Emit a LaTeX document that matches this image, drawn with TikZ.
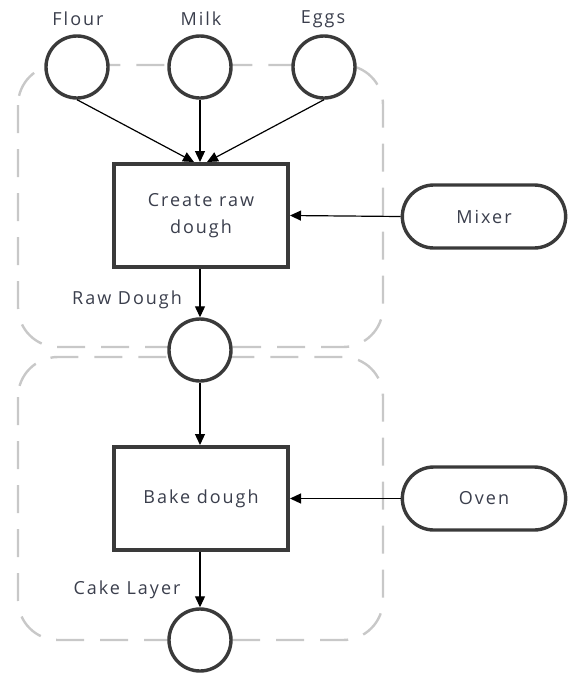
\documentclass[tikz,border=0pt]{standalone}
\usepackage{fontspec}
\setmainfont[LetterSpace=11]{Open Sans}
\usetikzlibrary{arrows.meta,shapes.misc}
\definecolor{ink}{HTML}{3A3A3A}
\definecolor{txt}{HTML}{3A3E4C}
\definecolor{frame}{HTML}{C8C8C8}
\begin{document}
\begin{tikzpicture}[x=1pt,y=-1pt,
  every node/.style={font=\fontsize{18}{27}\selectfont, text=txt},
  token/.style={circle, draw=ink, line width=3.4pt, fill=white, minimum size=62pt, inner sep=0pt},
  task/.style={rectangle, draw=ink, line width=4pt, fill=white, minimum width=174pt, minimum height=103pt, align=center, inner sep=2pt},
  res/.style={rounded rectangle, draw=ink, line width=3.4pt, fill=white, minimum width=170pt, minimum height=63pt},
  group/.style={draw=frame, line width=2.4pt, dash pattern=on 28pt off 16pt, rounded corners=40pt},
  flow/.style={draw=black, line width=1.2pt, -{Triangle[length=11pt,width=10pt]}},
  lbl/.style={inner sep=0pt}]
\useasboundingbox (0,0) rectangle (573,673);

% process groups
\draw[group] (18,65) rectangle (383,347);
\draw[group] (18,357) rectangle (383,640);

% inputs
\node[token] (flour) at (77,67) {};
\node[token] (milk) at (200,67) {};
\node[token] (eggs) at (324,67) {};
\node[lbl] (tflour) at (78,19) {Flour};
\node[lbl] (tmilk) at (201,19) {Milk};
\node[lbl] (teggs) at (323,19) {Eggs};

% tasks and resources
\node[task] (mix) at (201,215.5) {Create raw\\dough};
\node[task] (bake) at (201,498.5) {Bake dough};
\node[res] (mixer) at (484,216.5) {Mixer};
\node[res] (oven) at (484,498.5) {Oven};

% intermediate and final products
\node[token] (raw) at (200,350) {};
\node[token] (cake) at (200,640) {};
\node[lbl] (traw) at (127,300) {Raw Dough};
\node[lbl] (tcake) at (127,590) {Cake Layer};

% flows
\draw[flow] (flour.south) -- ([xshift=-7pt]mix.north);
\draw[flow] (milk.south) -- (milk.south |- mix.north);
\draw[flow] (eggs.south) -- ([xshift=6pt]mix.north);
\draw[flow] (mixer.west) -- (mix.east);
\draw[flow] (mix.south -| raw.north) -- (raw.north);
\draw[flow] (raw.south) -- (raw.south |- bake.north);
\draw[flow] (oven.west) -- (bake.east);
\draw[flow] (bake.south -| cake.north) -- (cake.north);
\end{tikzpicture}
\end{document}
